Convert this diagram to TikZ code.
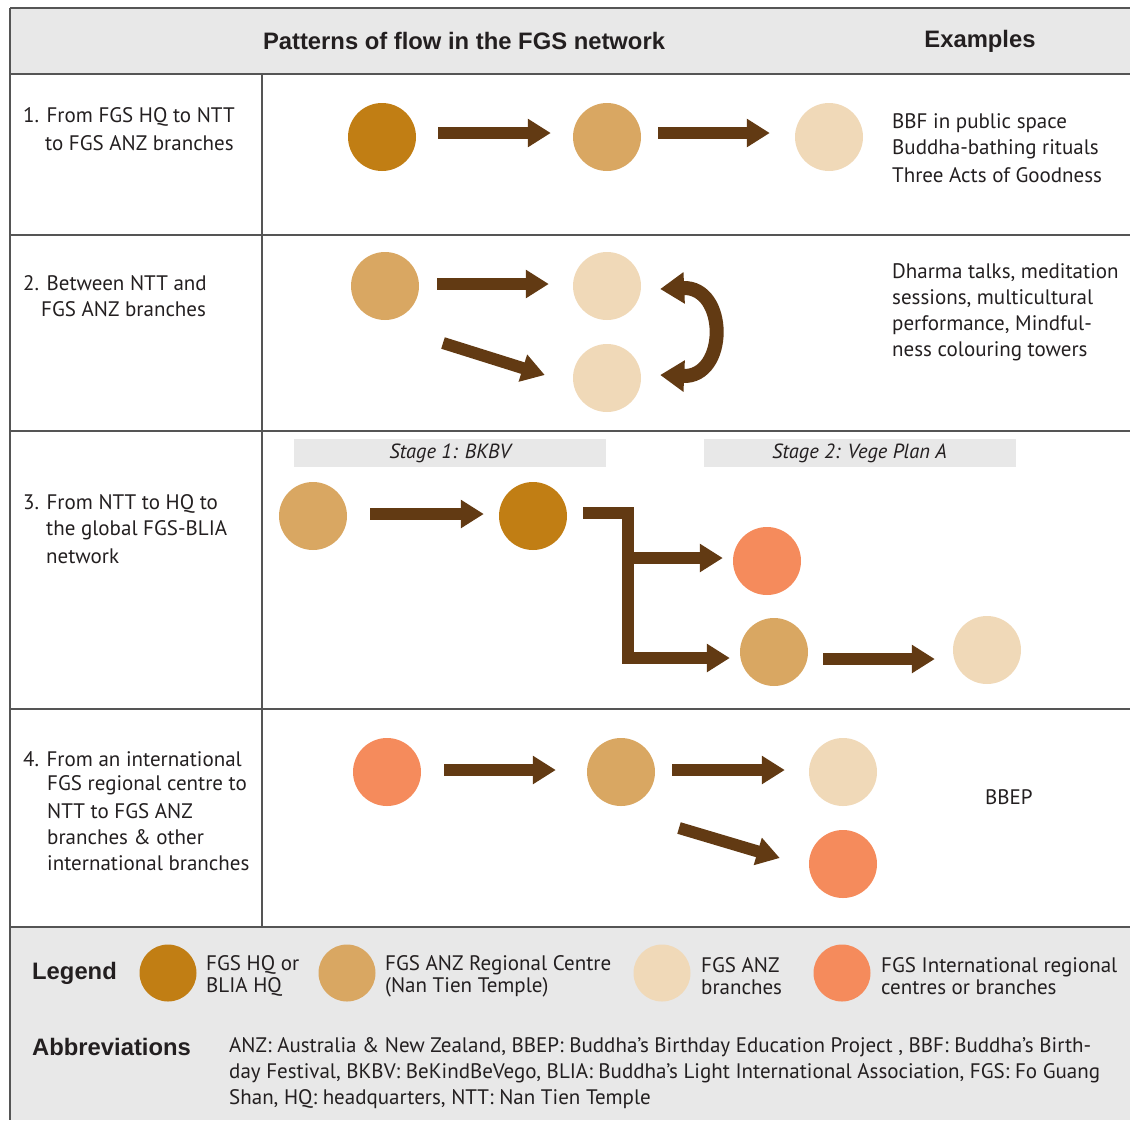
\documentclass[tikz,border=0pt]{standalone}
\usepackage{fontspec}
\setmainfont{PT Sans}
\newfontfamily\headfont{Liberation Sans}
\usetikzlibrary{arrows.meta}
\definecolor{cHQ}{HTML}{C17E14}
\definecolor{cNTT}{HTML}{D9A762}
\definecolor{cBR}{HTML}{F0D9B8}
\definecolor{cINT}{HTML}{F58B5C}
\definecolor{cArr}{HTML}{623A13}
\definecolor{cGray}{HTML}{E8E8E8}
\definecolor{cLine}{HTML}{555555}
\definecolor{cTxt}{HTML}{231F20}
\tikzset{
  dot/.style={circle,minimum size=68pt,inner sep=0,draw=none},
  ldot/.style={circle,minimum size=57pt,inner sep=0,draw=none},
  flow/.style={line width=12pt,draw=cArr,-{Triangle[length=23pt,width=27pt]}},
  bigflow/.style={line width=14pt,draw=cArr,{Triangle[length=24pt,width=30pt]}-{Triangle[length=24pt,width=30pt]}},
  rule/.style={draw=cLine,line width=1.5pt},
  body/.style={anchor=west,inner sep=0,text=cTxt,font=\fontsize{21}{26}\selectfont},
  leg/.style={anchor=west,inner sep=0,text=cTxt,font=\fontsize{21}{22}\selectfont,align=left},
  head/.style={inner sep=0,text=cTxt,font=\headfont\bfseries\fontsize{23.8}{26}\selectfont},
  stagebar/.style={fill=cGray,draw=none,minimum width=312pt,minimum height=28pt,inner sep=0,text=cTxt,font=\itshape\fontsize{20.5}{22}\selectfont}
}
\begin{document}
\begin{tikzpicture}[x=1pt,y=-1pt]
\useasboundingbox (0,0) rectangle (1130,1120);
% backgrounds
\fill[cGray] (10,8) rectangle (1130,74);
\fill[cGray] (10,927) rectangle (1130,1120);
% rules
\draw[rule] (10,8) -- (1130,8);
\draw[rule] (10,8) -- (10,1120);
\draw[rule] (10,74) -- (1130,74);
\draw[rule] (10,235) -- (1130,235);
\draw[rule] (10,431) -- (1130,431);
\draw[rule] (10,709) -- (1130,709);
\draw[rule] (10,927) -- (1130,927);
\draw[rule] (262,74) -- (262,927);
% header
\node[head] (h1) at (464,41) {Patterns of flow in the FGS network};
\node[head] (h2) at (980,41) {Examples};

% ---------- Row 1
\node[body] (r1a) at (23,117) {1. From FGS HQ to NTT};
\node[body] (r1b) at (45,143) {to FGS ANZ branches};
\node[dot,fill=cHQ] (c11) at (382,137) {};
\node[dot,fill=cNTT] (c12) at (607,137) {};
\node[dot,fill=cBR] (c13) at (829,137) {};
\draw[flow] ([xshift=22pt,yshift=4pt]c11.east) -- ([xshift=-22pt,yshift=4pt]c12.west);
\draw[flow] ([xshift=17pt,yshift=4pt]c12.east) -- ([xshift=-25pt,yshift=4pt]c13.west);
\node[body] (e1a) at (892,123) {BBF in public space};
\node[body] (e1b) at (892,149) {Buddha-bathing rituals};
\node[body] (e1c) at (892,175) {Three Acts of Goodness};

% ---------- Row 2
\node[body] (r2a) at (23,283) {2. Between NTT and};
\node[body] (r2b) at (41,309) {FGS ANZ branches};
\node[dot,fill=cNTT] (c21) at (385,286) {};
\node[dot,fill=cBR] (c22) at (607,286) {};
\node[dot,fill=cBR] (c23) at (607,378) {};
\coordinate (d2) at (443,343);
\draw[flow] ([xshift=18pt,yshift=2pt]c21.east) -- ([xshift=-24pt,yshift=2pt]c22.west);
\draw[flow] (d2) -- ([xshift=-28pt,yshift=3pt]c23.west);
\draw[bigflow] ([xshift=19pt,yshift=-3pt]c22.east) .. controls (728,286) and (728,378) .. ([xshift=19pt,yshift=3pt]c23.east);
\node[body] (e2a) at (892,273) {Dharma talks, meditation};
\node[body] (e2b) at (892,299) {sessions, multicultural};
\node[body] (e2c) at (892,325) {performance, Mindful-};
\node[body] (e2d) at (892,351) {ness colouring towers};

% ---------- Row 3
\node[stagebar] (s1) at (450,453) {Stage 1: BKBV};
\node[stagebar] (s2) at (859.5,453) {Stage 2: Vege Plan A};
\node[body] (r3a) at (23,504) {3. From NTT to HQ to};
\node[body] (r3b) at (46,530) {the global FGS-BLIA};
\node[body] (r3c) at (46,556) {network};
\node[dot,fill=cNTT] (c31) at (313,516) {};
\node[dot,fill=cHQ] (c32) at (533,516) {};
\node[dot,fill=cINT] (c33) at (767,561) {};
\node[dot,fill=cNTT] (c34) at (774,652) {};
\node[dot,fill=cBR] (c35) at (987,650) {};
\draw[flow] ([xshift=23pt,yshift=2pt]c31.east) -- ([xshift=-15pt,yshift=2pt]c32.west);
\coordinate (j) at (628,558);
\coordinate (k) at (628,658);
\draw[flow,line join=miter] ([xshift=16pt,yshift=3pt]c32.east) -| (k) -- ([xshift=-10pt]c34.west |- k);
\draw[flow] (j) -- ([xshift=-10pt]c33.west |- j);
\draw[flow] ([xshift=15pt,yshift=-7pt]c34.east) -- ([xshift=-18pt,yshift=-9pt]c35.west);

% ---------- Row 4
\node[body] (r4a) at (23,759) {4. From an international};
\node[body] (r4b) at (47,785) {FGS regional centre to};
\node[body] (r4c) at (47,811) {NTT to FGS ANZ};
\node[body] (r4d) at (47,837) {branches \& other};
\node[body] (r4e) at (47,863) {international branches};
\node[dot,fill=cINT] (c41) at (387,772) {};
\node[dot,fill=cNTT] (c42) at (621,772) {};
\node[dot,fill=cBR] (c43) at (843,772) {};
\node[dot,fill=cINT] (c44) at (843,864) {};
\coordinate (d4) at (679,828);
\draw[flow] ([xshift=23pt,yshift=2pt]c41.east) -- ([xshift=-31pt,yshift=2pt]c42.west);
\draw[flow] ([xshift=17pt,yshift=2pt]c42.east) -- ([xshift=-24pt,yshift=2pt]c43.west);
\draw[flow] (d4) -- ([xshift=-29pt,yshift=6pt]c44.west);
\node[body] (e4) at (985,797) {BBEP};

% ---------- Legend
\node[head,anchor=west] (lg) at (32,973) {Legend};
\node[ldot,fill=cHQ] (l1) at (168,973) {};
\node[ldot,fill=cNTT] (l2) at (347,973) {};
\node[ldot,fill=cBR] (l3) at (662,973) {};
\node[ldot,fill=cINT] (l4) at (842,973) {};
\node[leg] (lt1) at (206,976) {FGS HQ or\\BLIA HQ};
\node[leg] (lt2) at (385,976) {FGS ANZ Regional Centre\\(Nan Tien Temple)};
\node[leg] (lt3) at (701,976) {FGS ANZ\\branches};
\node[leg] (lt4) at (881,976) {FGS International regional\\centres or branches};

\node[head,anchor=west] (ab) at (32,1047) {Abbreviations};
\node[body] (ab1) at (229,1047) {ANZ: Australia \& New Zealand, BBEP: Buddha’s Birthday Education Project , BBF: Buddha’s Birth-};
\node[body] (ab2) at (229,1073) {day Festival, BKBV: BeKindBeVego, BLIA: Buddha’s Light International Association, FGS: Fo Guang};
\node[body] (ab3) at (229,1099) {Shan, HQ: headquarters, NTT: Nan Tien Temple};
\end{tikzpicture}
\end{document}
